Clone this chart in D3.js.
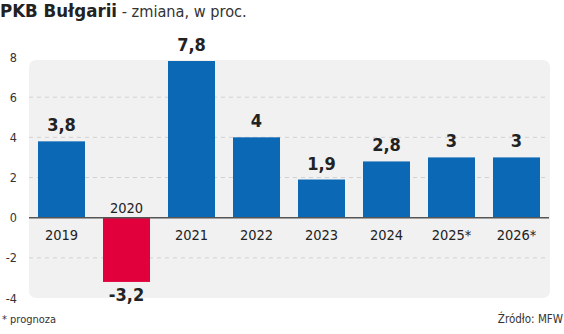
<!DOCTYPE html>
<html><head><meta charset="utf-8">
<script src="https://cdn.jsdelivr.net/npm/d3@7"></script>
<style>
html,body{margin:0;padding:0;background:#fff;}
svg{display:block;}
</style></head>
<body>
<svg id="c" width="564" height="334"></svg>
<script>
const categories = ["2019","2020","2021","2022","2023","2024","2025*","2026*"];
const values = [3.8, -3.2, 7.8, 4, 1.9, 2.8, 3, 3];
const valueLabels = ["3,8","-3,2","7,8","4","1,9","2,8","3","3"];
const yTicks = [-4,-2,0,2,4,6,8];
const gridTicks = [-2,2,4,6];
const title = "PKB Bułgarii";
const subtitle = " - zmiana, w proc.";
const footnote = "* prognoza";
const source = "Źródło: MFW";

const svg = d3.select("#c");
const narrow = "'Liberation Sans Narrow','DejaVu Sans Condensed','Roboto',sans-serif";
const condensed = "'DejaVu Sans Condensed','Liberation Sans Narrow',sans-serif";

const x = d3.scaleBand().domain(categories).range([29, 549]).paddingInner(0.277).paddingOuter(0.1385);
const y = d3.scaleLinear().domain([-4, 8]).range([298, 57]);

// panel
svg.append("rect").attr("x", 29).attr("y", y(7.85)).attr("width", 521).attr("height", y(-4) - y(7.85))
  .attr("rx", 7).attr("fill", "#f1f1f1");

// grid
svg.append("g").selectAll("line").data(gridTicks).join("line")
  .attr("x1", 29).attr("x2", 549).attr("y1", d => y(d)).attr("y2", d => y(d))
  .attr("stroke", "#d2d2d2").attr("stroke-width", 1).attr("stroke-dasharray", "4,4");

// y axis labels
const yAxis = d3.axisLeft(y).tickValues(yTicks).tickSize(0).tickPadding(0)
  .tickFormat(d => d < 0 ? "-" + Math.abs(d) : d);
const ya = svg.append("g").attr("transform", "translate(17,0)").call(yAxis);
ya.select(".domain").remove();
ya.selectAll("text").attr("font-family", condensed).attr("font-size", 12.5).attr("fill", "#333");

// bars
svg.append("g").selectAll("rect").data(values).join("rect")
  .attr("x", (d, i) => x(categories[i]))
  .attr("width", x.bandwidth())
  .attr("y", d => y(Math.max(0, d)))
  .attr("height", d => Math.abs(y(d) - y(0)))
  .attr("fill", d => d < 0 ? "#e2003c" : "#0b68b5");

// zero line
svg.append("line").attr("x1", 29).attr("x2", 549).attr("y1", y(0)).attr("y2", y(0))
  .attr("stroke", "#555").attr("stroke-width", 1.5);

// value labels
svg.append("g").selectAll("text").data(values).join("text")
  .attr("x", (d, i) => x(categories[i]) + x.bandwidth() / 2)
  .attr("y", d => d < 0 ? y(d) + 19 : y(d) - 10)
  .attr("text-anchor", "middle")
  .attr("font-family", condensed).attr("font-weight", "bold").attr("font-size", 18).attr("fill", "#222")
  .text((d, i) => valueLabels[i]);

// category labels
svg.append("g").selectAll("text").data(values).join("text")
  .attr("x", (d, i) => x(categories[i]) + x.bandwidth() / 2)
  .attr("y", d => d < 0 ? y(0) - 5 : y(0) + 22)
  .attr("text-anchor", "middle")
  .attr("font-family", condensed).attr("font-size", 14.5).attr("fill", "#222")
  .text((d, i) => categories[i]);

// title
const t = svg.append("text").attr("x", 0).attr("y", 17).attr("fill", "#222");
t.append("tspan").attr("font-family", "'DejaVu Sans Condensed',sans-serif").attr("font-weight", "bold").attr("font-size", 18.5).text(title);
t.append("tspan").attr("font-family", "'DejaVu Sans Condensed',sans-serif").attr("font-size", 16.2).attr("fill", "#333").text(subtitle);

svg.append("text").attr("x", 2).attr("y", 323).attr("font-family", condensed).attr("font-size", 11).attr("fill", "#333").text(footnote);
svg.append("text").attr("x", 563).attr("y", 323).attr("text-anchor", "end").attr("font-family", narrow).attr("font-size", 11.5).attr("fill", "#333").text(source);
</script>
</body></html>
